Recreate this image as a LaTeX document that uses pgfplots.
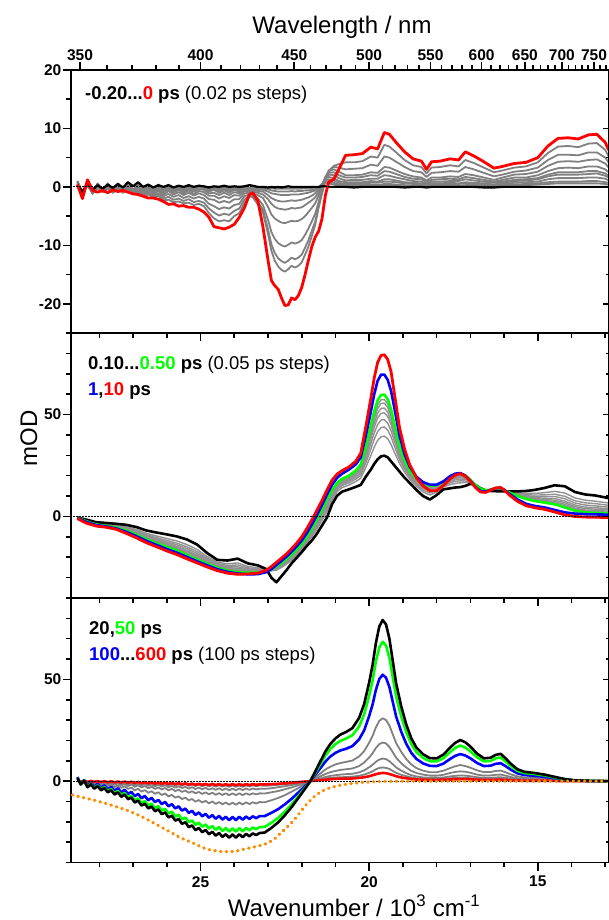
\documentclass[border=0pt]{standalone}
\usepackage{pgfplots}
\pgfplotsset{compat=1.18}
\usepackage{pgfplotstable}
\usepackage{fontspec}
\setmainfont{Liberation Sans}

\definecolor{mygreen}{RGB}{0,255,0}
\definecolor{myorange}{RGB}{255,140,0}
\definecolor{mygray}{RGB}{128,128,128}
\definecolor{midgray}{RGB}{145,145,145}

% top panel: -0.20 ... 0 ps
\pgfplotstableread{
w k g1 g2 g3 g4 g5 g6 g7 g8 g9 r
28.65 0.3 1.0 0.9 1.0 0.8 0.9 0.8 0.7 0.5 0.4 0.4
28.50 -0.8 -1.0 -0.9 -1.0 -0.9 -1.1 -1.0 -1.0 -1.0 -0.9 -2.0
28.35 0.5 1.0 0.9 0.9 0.7 0.9 0.7 0.5 0.4 0.2 1.2
28.20 -0.5 -1.0 -0.9 -1.1 -0.9 -1.2 -1.1 -1.1 -1.1 -1.1 -0.6
28.05 0.3 0.6 0.5 0.5 0.4 0.4 0.3 0.1 0.0 -0.2 -0.9
27.90 -0.3 -0.6 -0.6 -0.7 -0.6 -0.8 -0.8 -0.8 -0.9 -0.9 -0.6
27.75 0.4 0.6 0.5 0.5 0.3 0.4 0.3 0.1 -0.1 -0.3 -1.0
27.60 -0.2 -0.6 -0.6 -0.7 -0.6 -0.8 -0.8 -0.9 -1.0 -1.0 -0.5
27.45 0.5 0.6 0.5 0.5 0.3 0.4 0.3 0.1 -0.1 -0.3 -0.8
27.30 -0.1 -0.6 -0.6 -0.7 -0.6 -0.8 -0.8 -0.9 -1.0 -1.0 -0.6
27.15 0.8 0.6 0.5 0.5 0.3 0.4 0.2 0.0 -0.2 -0.4 -0.9
27.00 0.1 -0.5 -0.5 -0.6 -0.6 -0.8 -0.8 -1.0 -1.1 -1.3 -1.2
26.85 0.8 0.4 0.3 0.3 0.1 0.1 -0.1 -0.3 -0.6 -0.8 -1.3
26.70 0.0 -0.5 -0.5 -0.6 -0.6 -0.9 -1.0 -1.2 -1.4 -1.6 -1.6
26.55 0.4 0.4 0.3 0.2 0.0 0.0 -0.3 -0.6 -1.0 -1.3 -1.9
26.40 -0.1 -0.5 -0.5 -0.7 -0.7 -0.9 -1.1 -1.3 -1.6 -1.8 -1.9
26.25 0.3 0.4 0.3 0.2 0.0 -0.1 -0.4 -0.7 -1.1 -1.5 -2.1
26.10 0.0 -0.5 -0.6 -0.7 -0.8 -1.1 -1.3 -1.6 -2.0 -2.3 -2.5
25.95 0.3 0.4 0.2 0.1 -0.2 -0.3 -0.7 -1.2 -1.7 -2.2 -3.0
25.80 -0.1 -0.4 -0.5 -0.6 -0.7 -1.0 -1.3 -1.7 -2.2 -2.6 -2.9
25.65 0.2 0.2 0.0 -0.1 -0.3 -0.5 -0.9 -1.4 -2.0 -2.5 -3.3
25.50 0.0 -0.4 -0.5 -0.7 -0.8 -1.1 -1.4 -1.9 -2.4 -2.8 -3.2
25.35 0.3 0.2 0.0 -0.1 -0.4 -0.6 -1.0 -1.6 -2.1 -2.7 -3.5
25.20 0.0 -0.4 -0.5 -0.7 -0.8 -1.2 -1.5 -2.0 -2.6 -3.1 -3.5
25.05 0.2 0.2 0.0 -0.1 -0.4 -0.7 -1.1 -1.7 -2.4 -2.9 -3.8
24.90 0.1 0.1 -0.1 -0.3 -0.5 -0.9 -1.4 -2.0 -2.7 -3.3 -4.3
24.75 -0.1 -0.4 -0.6 -0.8 -1.1 -1.5 -2.1 -2.9 -3.7 -4.5 -5.2
24.60 0.1 0.0 -0.3 -0.5 -1.0 -1.5 -2.2 -3.3 -4.4 -5.4 -6.8
24.45 0.0 -0.4 -0.7 -1.0 -1.4 -2.0 -2.7 -3.8 -4.9 -5.9 -7.0
24.30 0.2 0.0 -0.3 -0.6 -1.0 -1.6 -2.4 -3.5 -4.6 -5.7 -7.2
24.15 0.0 -0.4 -0.7 -1.0 -1.4 -1.9 -2.7 -3.7 -4.8 -5.9 -6.9
24.00 0.1 0.0 -0.2 -0.5 -0.9 -1.4 -2.1 -3.1 -4.1 -5.0 -6.4
23.85 0.0 -0.4 -0.6 -0.8 -1.1 -1.5 -2.1 -2.9 -3.7 -4.5 -5.2
23.70 0.1 0.1 -0.1 -0.2 -0.4 -0.7 -1.1 -1.6 -2.2 -2.8 -3.6
23.55 0.3 -0.2 -0.3 -0.4 -0.6 -0.8 -1.0 -1.3 -1.5 -1.6 -1.3
23.45 0.2 -0.1 -0.2 -0.4 -0.6 -0.8 -1.1 -1.4 -1.6 -1.8 -1.0
23.30 0.0 -0.2 -0.3 -0.5 -0.7 -1.0 -1.4 -2.0 -2.6 -3.0 -2.4
23.15 0.0 -0.2 -0.3 -0.5 -0.8 -1.3 -1.9 -3.1 -3.9 -4.4 -6.8
23.00 -0.1 -0.2 -0.4 -0.8 -1.4 -2.1 -3.4 -5.6 -7.2 -8.0 -12.5
22.90 0.0 -0.2 -0.6 -1.1 -1.9 -2.9 -4.7 -7.7 -9.8 -10.9 -16.0
22.80 -0.1 -0.3 -0.7 -1.2 -2.2 -3.4 -5.4 -8.9 -11.3 -12.6 -16.9
22.70 0.0 -0.3 -0.8 -1.3 -2.4 -3.7 -5.8 -9.6 -12.2 -13.6 -17.5
22.60 -0.1 -0.3 -0.8 -1.4 -2.5 -3.8 -6.1 -10.0 -12.7 -14.2 -19.0
22.50 0.0 -0.3 -0.8 -1.4 -2.5 -3.9 -6.2 -10.2 -13.0 -14.5 -20.3
22.40 0.1 -0.3 -0.8 -1.4 -2.4 -3.8 -6.0 -9.9 -12.6 -14.1 -20.2
22.30 0.0 -0.3 -0.7 -1.3 -2.3 -3.6 -5.8 -9.5 -12.1 -13.5 -19.0
22.20 0.0 -0.3 -0.8 -1.3 -2.4 -3.7 -5.9 -9.7 -12.4 -13.8 -19.3
22.10 0.0 -0.3 -0.7 -1.3 -2.3 -3.6 -5.8 -9.5 -12.1 -13.5 -18.6
22.00 0.0 -0.3 -0.7 -1.2 -2.2 -3.5 -5.5 -9.1 -11.6 -12.9 -17.2
21.90 0.0 -0.2 -0.6 -1.1 -2.0 -3.1 -5.0 -8.2 -10.4 -11.6 -15.0
21.80 0.0 -0.2 -0.6 -1.0 -1.8 -2.7 -4.3 -7.1 -9.1 -10.2 -12.5
21.70 0.0 -0.2 -0.5 -0.8 -1.5 -2.3 -3.6 -5.9 -7.5 -8.4 -10.2
21.60 0.0 -0.1 -0.4 -0.6 -1.1 -1.8 -2.8 -4.6 -5.9 -6.5 -8.6
21.50 0.0 0.0 -0.1 -0.2 -0.5 -0.9 -1.5 -2.6 -3.3 -3.6 -7.6
21.40 0.1 0.4 0.5 0.5 0.4 0.3 0.1 -0.5 -1.0 -1.2 -5.5
21.30 0.1 0.6 0.9 1.2 1.5 1.6 1.7 1.6 1.3 1.0 -1.5
21.20 0.0 0.6 1.0 1.3 1.7 2.1 2.4 2.7 2.8 2.7 0.8
21.05 0.0 0.4 0.7 1.1 1.5 2.0 2.5 3.0 3.4 3.6 1.3
20.90 0.0 0.2 0.4 0.7 1.0 1.5 2.0 2.6 3.3 3.9 3.0
20.70 0.0 0.1 0.3 0.5 0.8 1.1 1.6 2.0 3.0 4.2 5.4
20.45 -0.1 0.1 0.3 0.6 0.8 1.2 1.6 2.0 3.1 4.2 5.5
20.20 0.0 0.1 0.3 0.6 0.8 1.2 1.7 2.1 3.2 4.4 5.7
19.95 0.0 0.1 0.3 0.7 1.0 1.4 2.0 2.5 3.8 5.2 6.8
19.75 0.0 0.1 0.3 0.7 0.9 1.4 1.9 2.4 3.6 5.0 6.5
19.55 0.0 0.2 0.5 0.9 1.3 2.0 2.7 3.4 5.2 7.2 9.3
19.40 0.0 0.2 0.5 0.9 1.3 1.9 2.6 3.3 5.0 6.9 9.0
19.20 0.0 0.2 0.4 0.8 1.1 1.6 2.2 2.8 4.3 5.9 7.6
18.95 -0.1 0.1 0.3 0.6 0.8 1.3 1.7 2.2 3.4 4.6 6.0
18.70 0.0 0.1 0.2 0.5 0.7 1.0 1.4 1.8 2.7 3.7 4.8
18.45 0.0 0.1 0.2 0.4 0.6 0.9 1.3 1.6 2.5 3.4 4.4
18.30 -0.1 0.1 0.2 0.3 0.4 0.6 0.9 1.1 1.7 2.3 3.0
18.15 0.0 0.1 0.2 0.4 0.6 0.9 1.2 1.6 2.4 3.3 4.3
17.90 0.0 0.1 0.2 0.4 0.6 0.9 1.3 1.6 2.5 3.4 4.4
17.60 0.0 0.1 0.2 0.5 0.7 1.0 1.4 1.8 2.7 3.7 4.8
17.35 0.0 0.1 0.2 0.5 0.6 1.0 1.3 1.7 2.6 3.5 4.6
17.15 0.0 0.1 0.3 0.6 0.8 1.3 1.7 2.2 3.4 4.6 6.0
16.90 0.0 0.1 0.3 0.5 0.7 1.1 1.5 2.0 3.0 4.1 5.3
16.60 -0.1 0.1 0.2 0.4 0.6 0.9 1.2 1.6 2.4 3.3 4.3
16.30 -0.1 0.1 0.2 0.3 0.4 0.7 0.9 1.2 1.8 2.5 3.2
16.05 0.0 0.2 0.3 0.5 0.7 0.9 1.2 1.6 2.1 2.8 3.5
15.70 0.0 0.3 0.4 0.7 1.0 1.2 1.6 2.1 2.6 3.3 4.0
15.35 0.0 0.3 0.5 0.8 1.1 1.3 1.6 2.2 2.8 3.5 4.2
15.00 0.0 0.4 0.6 0.9 1.3 1.5 2.0 2.6 3.3 4.2 5.0
14.70 0.0 0.5 0.8 1.3 1.8 2.1 2.7 3.6 4.6 5.8 7.0
14.40 0.0 0.6 0.9 1.5 2.1 2.5 3.2 4.3 5.5 6.9 8.3
14.10 0.0 0.6 0.9 1.5 2.1 2.5 3.3 4.4 5.5 7.0 8.4
13.80 0.0 0.6 0.9 1.5 2.1 2.5 3.2 4.3 5.4 6.8 8.2
13.50 0.0 0.6 1.0 1.6 2.2 2.7 3.5 4.6 5.9 7.4 8.9
13.25 0.0 0.6 1.0 1.6 2.3 2.7 3.5 4.7 5.9 7.5 9.0
13.00 0.0 0.5 0.8 1.4 1.9 2.3 3.0 4.0 5.0 6.3 7.6
12.90 0.0 0.4 0.7 1.1 1.6 1.9 2.5 3.3 4.2 5.2 6.3
}\toptab

% middle panel: 0.10 ... 0.50 ps, 1 ps, 10 ps
\pgfplotstableread{
w k g1 g2 g3 g4 g5 g6 g7 gr b r
28.65 -0.5 -0.5 -0.5 -0.6 -0.6 -0.6 -0.6 -0.6 -0.6 -0.8 -1.0
28.40 -1.5 -1.8 -1.9 -2.0 -2.1 -2.1 -2.2 -2.2 -2.3 -2.6 -3.2
28.10 -2.8 -3.2 -3.3 -3.4 -3.6 -3.7 -3.7 -3.8 -3.9 -4.2 -4.7
27.80 -3.2 -3.6 -3.9 -4.0 -4.2 -4.3 -4.4 -4.5 -4.6 -4.9 -5.3
27.50 -3.6 -4.2 -4.5 -4.7 -4.9 -5.1 -5.2 -5.3 -5.5 -5.9 -6.3
27.20 -4.1 -5.0 -5.5 -5.8 -6.1 -6.4 -6.6 -6.8 -7.0 -7.6 -8.3
26.90 -5.2 -6.4 -7.0 -7.4 -7.9 -8.2 -8.5 -8.7 -9.0 -9.7 -10.5
26.60 -6.9 -8.3 -8.9 -9.4 -9.9 -10.3 -10.6 -10.9 -11.2 -12.0 -12.9
26.30 -7.9 -9.6 -10.4 -11.0 -11.6 -12.0 -12.5 -12.8 -13.2 -14.0 -14.9
26.00 -8.8 -10.8 -11.7 -12.5 -13.1 -13.6 -14.1 -14.5 -15.0 -16.0 -16.9
25.70 -9.8 -12.0 -13.1 -13.9 -14.7 -15.3 -15.8 -16.2 -16.8 -17.8 -18.7
25.40 -11.3 -13.8 -14.9 -15.8 -16.7 -17.3 -17.9 -18.4 -19.0 -19.9 -20.8
25.10 -13.8 -16.2 -17.3 -18.2 -19.0 -19.6 -20.2 -20.6 -21.2 -22.0 -22.8
24.80 -18.0 -19.7 -20.5 -21.1 -21.7 -22.1 -22.6 -22.9 -23.3 -24.0 -24.8
24.50 -21.3 -22.5 -23.1 -23.6 -24.0 -24.3 -24.7 -24.9 -25.2 -25.9 -26.6
24.20 -21.6 -23.2 -24.0 -24.6 -25.1 -25.5 -25.9 -26.2 -26.6 -27.2 -27.8
23.90 -20.7 -22.8 -23.8 -24.7 -25.4 -25.9 -26.5 -26.9 -27.4 -28.0 -28.4
23.60 -23.0 -24.5 -25.2 -25.7 -26.2 -26.6 -27.0 -27.2 -27.6 -28.4 -28.2
23.30 -24.0 -25.2 -25.7 -26.1 -26.5 -26.8 -27.1 -27.3 -27.6 -28.3 -27.8
23.05 -25.8 -26.3 -26.5 -26.6 -26.7 -26.8 -26.9 -26.9 -27.0 -27.3 -26.4
22.90 -30.0 -26.7 -26.5 -26.4 -26.3 -26.2 -26.1 -26.1 -26.0 -25.8 -24.6
22.75 -32.3 -26.3 -25.9 -25.6 -25.3 -25.1 -24.9 -24.7 -24.5 -23.8 -22.5
22.60 -29.3 -25.0 -24.5 -24.1 -23.8 -23.5 -23.2 -23.1 -22.8 -21.8 -20.5
22.45 -26.3 -23.3 -22.8 -22.3 -21.9 -21.6 -21.3 -21.1 -20.8 -19.7 -18.3
22.30 -23.0 -21.6 -20.9 -20.4 -19.9 -19.6 -19.2 -19.0 -18.6 -17.3 -15.8
22.15 -20.3 -19.0 -18.4 -17.9 -17.4 -17.1 -16.8 -16.5 -16.2 -14.7 -13.1
22.00 -17.5 -16.2 -15.6 -15.1 -14.7 -14.4 -14.1 -13.8 -13.5 -11.8 -10.0
21.85 -14.5 -13.1 -12.4 -11.8 -11.4 -11.0 -10.6 -10.4 -10.0 -8.2 -6.0
21.70 -11.8 -9.9 -9.1 -8.4 -7.7 -7.3 -6.8 -6.5 -6.0 -4.0 -1.7
21.55 -8.5 -6.3 -5.2 -4.4 -3.6 -3.0 -2.5 -2.1 -1.5 0.6 3.0
21.40 -4.5 -2.0 -0.8 0.1 1.0 1.6 2.2 2.7 3.3 5.6 7.8
21.25 -0.5 2.4 3.7 4.8 5.8 6.5 7.2 7.8 8.5 10.8 13.0
21.10 6.0 8.2 9.3 10.1 10.9 11.5 12.0 12.4 13.0 15.6 17.8
20.95 10.2 12.2 13.2 13.9 14.6 15.1 15.6 16.0 16.5 19.0 20.8
20.80 12.2 14.2 15.2 15.9 16.6 17.1 17.6 18.0 18.5 21.0 22.5
20.60 13.3 15.4 16.5 17.3 18.0 18.5 19.1 19.5 20.0 23.0 24.3
20.40 14.5 17.1 18.3 19.2 20.1 20.7 21.4 21.9 22.5 25.5 27.0
20.25 15.5 18.7 20.2 21.4 22.5 23.3 24.1 24.7 25.5 29.0 31.0
20.10 19.5 24.1 26.3 28.1 29.7 30.8 32.0 32.8 34.0 39.5 44.0
19.95 23.0 29.9 33.1 35.7 38.1 39.8 41.5 42.8 44.5 51.5 58.0
19.85 25.8 34.0 37.9 41.0 43.8 45.8 47.9 49.4 51.5 60.0 68.0
19.75 28.0 37.3 41.6 45.1 48.3 50.6 52.9 54.7 57.0 66.5 75.5
19.65 29.5 39.1 43.6 47.3 50.6 53.0 55.4 57.2 59.6 69.5 79.0
19.55 29.8 39.4 43.9 47.5 50.8 53.2 55.6 57.4 59.8 69.6 79.3
19.45 29.0 38.1 42.4 45.8 49.0 51.2 53.5 55.2 57.5 67.0 77.0
19.35 27.0 35.2 39.0 42.0 44.9 46.9 48.9 50.5 52.5 61.5 71.0
19.25 25.0 31.4 34.4 36.8 39.0 40.6 42.2 43.4 45.0 53.0 60.0
19.10 22.0 26.0 27.9 29.4 30.8 31.8 32.8 33.5 34.5 39.5 43.5
18.95 19.0 21.7 23.0 24.0 25.0 25.6 26.3 26.8 27.5 30.5 33.0
18.80 16.5 18.4 19.3 20.0 20.7 21.2 21.7 22.0 22.5 24.5 25.5
18.60 13.0 14.8 15.6 16.2 16.9 17.3 17.7 18.1 18.5 19.5 19.0
18.40 10.0 12.0 12.9 13.7 14.3 14.8 15.3 15.7 16.2 16.8 15.0
18.20 8.3 10.5 11.5 12.4 13.1 13.7 14.2 14.6 15.2 15.6 12.6
18.00 10.5 12.0 12.8 13.3 13.9 14.2 14.6 14.9 15.3 15.6 12.6
17.80 13.3 14.5 15.0 15.5 15.9 16.2 16.5 16.7 17.0 17.2 15.2
17.60 13.8 15.6 16.5 17.2 17.8 18.2 18.7 19.0 19.5 19.8 18.5
17.45 14.2 16.2 17.2 18.0 18.7 19.2 19.7 20.1 20.6 21.0 20.3
17.30 14.4 16.5 17.5 18.3 19.0 19.5 20.1 20.5 21.0 21.3 21.0
17.15 15.0 16.7 17.4 18.1 18.6 19.1 19.5 19.8 20.2 20.0 19.8
17.00 16.0 16.6 16.9 17.2 17.4 17.6 17.7 17.8 18.0 17.5 17.3
16.85 15.5 15.5 15.5 15.5 15.5 15.5 15.5 15.5 15.5 14.5 14.2
16.70 13.8 13.7 13.7 13.7 13.7 13.6 13.6 13.6 13.6 12.5 12.0
16.55 12.8 12.8 12.8 12.8 12.8 12.8 12.8 12.8 12.8 12.2 11.8
16.40 12.5 12.7 12.8 12.9 13.0 13.0 13.1 13.1 13.2 13.0 12.9
16.25 12.4 12.9 13.1 13.3 13.5 13.6 13.7 13.8 13.9 13.9 14.0
16.10 12.3 12.8 13.0 13.2 13.4 13.5 13.6 13.7 13.8 14.0 14.2
16.00 12.3 12.5 12.6 12.7 12.8 12.8 12.9 12.9 13.0 13.1 13.0
15.85 12.3 12.1 12.1 12.0 12.0 11.9 11.9 11.8 11.8 11.2 10.6
15.60 12.3 11.6 11.2 10.9 10.7 10.5 10.3 10.2 10.0 8.3 7.4
15.35 12.5 11.3 10.7 10.2 9.8 9.5 9.1 8.9 8.6 6.2 5.3
15.10 13.0 11.3 10.5 9.8 9.2 8.8 8.4 8.0 7.6 5.2 4.3
14.80 14.0 11.7 10.6 9.8 9.0 8.4 7.8 7.4 6.8 4.4 3.5
14.50 15.3 12.3 10.9 9.8 8.8 8.0 7.3 6.7 6.0 3.2 2.2
14.20 14.8 11.5 9.9 8.7 7.5 6.7 5.9 5.2 4.4 2.0 0.8
13.90 12.0 9.1 7.7 6.6 5.6 4.8 4.1 3.5 2.8 1.4 0.0
13.60 10.8 8.0 6.7 5.6 4.6 3.9 3.2 2.7 2.0 1.1 -0.3
13.30 10.3 7.5 6.3 5.2 4.3 3.6 2.9 2.4 1.7 1.0 -0.4
12.90 9.0 6.6 5.5 4.6 3.8 3.2 2.6 2.1 1.5 0.9 -0.5
}\midtab

% bottom panel: 20, 50, 100 ... 600 ps
\pgfplotstableread{
w k gr b g1 g2 g3 g4 r
28.65 1.5 1.5 2.0 0.9 0.8 0.6 0.5 0.3
28.55 -1.6 -1.6 -1.5 -1.0 -0.8 -0.7 -0.5 -0.3
28.45 0.1 0.2 0.5 0.4 0.4 0.4 0.4 0.2
28.35 -3.0 -2.8 -2.4 -1.5 -1.1 -0.9 -0.7 -0.4
28.25 -1.6 -1.3 -0.8 -0.5 -0.1 0.0 0.1 0.1
28.15 -3.7 -3.4 -2.8 -1.7 -1.1 -0.8 -0.6 -0.4
28.05 -2.5 -2.1 -1.4 -0.9 -0.3 -0.1 0.1 0.0
27.95 -4.5 -4.1 -3.3 -2.0 -1.3 -1.0 -0.7 -0.5
27.85 -3.4 -2.9 -2.1 -1.2 -0.6 -0.2 0.0 0.0
27.75 -5.5 -5.0 -4.0 -2.4 -1.6 -1.1 -0.8 -0.6
27.65 -4.5 -3.9 -2.8 -1.7 -0.8 -0.4 -0.1 -0.1
27.55 -6.6 -6.0 -4.7 -2.9 -1.8 -1.3 -0.9 -0.6
27.45 -5.5 -4.8 -3.5 -2.1 -1.1 -0.5 -0.2 -0.2
27.35 -7.7 -6.9 -5.5 -3.3 -2.1 -1.4 -1.0 -0.7
27.25 -6.6 -5.8 -4.2 -2.5 -1.3 -0.7 -0.3 -0.2
27.15 -8.9 -8.0 -6.3 -3.8 -2.4 -1.6 -1.1 -0.8
27.05 -8.1 -7.1 -5.3 -3.2 -1.7 -0.9 -0.5 -0.3
26.95 -10.5 -9.4 -7.4 -4.5 -2.8 -1.9 -1.2 -0.9
26.85 -9.6 -8.5 -6.3 -3.8 -2.0 -1.2 -0.6 -0.4
26.75 -12.0 -10.8 -8.4 -5.1 -3.1 -2.1 -1.4 -1.0
26.65 -11.1 -9.8 -7.3 -4.4 -2.4 -1.4 -0.7 -0.5
26.55 -13.4 -12.0 -9.4 -5.7 -3.5 -2.3 -1.5 -1.1
26.45 -12.5 -11.0 -8.2 -5.0 -2.7 -1.6 -0.8 -0.6
26.35 -14.8 -13.3 -10.3 -6.2 -3.8 -2.5 -1.6 -1.2
26.25 -13.9 -12.3 -9.2 -5.5 -3.1 -1.8 -1.0 -0.7
26.15 -16.2 -14.5 -11.3 -6.8 -4.1 -2.7 -1.7 -1.3
26.05 -15.4 -13.6 -10.2 -6.1 -3.4 -2.0 -1.1 -0.8
25.95 -17.8 -15.9 -12.4 -7.5 -4.5 -3.0 -1.9 -1.4
25.85 -17.0 -15.0 -11.3 -6.8 -3.8 -2.3 -1.3 -0.9
25.75 -19.4 -17.4 -13.4 -8.1 -4.9 -3.2 -2.0 -1.5
25.65 -18.6 -16.5 -12.4 -7.5 -4.2 -2.5 -1.4 -1.0
25.55 -21.0 -18.8 -14.5 -8.8 -5.3 -3.4 -2.2 -1.6
25.45 -20.2 -17.9 -13.5 -8.1 -4.6 -2.8 -1.5 -1.1
25.35 -22.6 -20.2 -15.6 -9.4 -5.7 -3.7 -2.3 -1.7
25.25 -21.8 -19.3 -14.6 -8.8 -5.0 -3.0 -1.7 -1.2
25.15 -24.1 -21.5 -16.6 -10.1 -6.0 -3.9 -2.4 -1.8
25.05 -23.0 -20.4 -15.4 -9.3 -5.3 -3.2 -1.8 -1.3
24.95 -25.1 -22.4 -17.3 -10.5 -6.3 -4.0 -2.5 -1.8
24.85 -24.0 -21.3 -16.1 -9.7 -5.5 -3.3 -1.9 -1.4
24.75 -26.1 -23.3 -18.0 -10.9 -6.5 -4.2 -2.6 -1.9
24.65 -24.9 -22.1 -16.7 -10.0 -5.7 -3.5 -2.0 -1.4
24.55 -26.8 -23.9 -18.5 -11.2 -6.7 -4.3 -2.7 -1.9
24.45 -25.5 -22.6 -17.1 -10.3 -5.9 -3.5 -2.0 -1.5
24.35 -27.4 -24.5 -18.9 -11.4 -6.8 -4.4 -2.7 -2.0
24.25 -26.1 -23.1 -17.5 -10.5 -6.0 -3.6 -2.1 -1.5
24.15 -27.8 -24.8 -19.2 -11.6 -6.9 -4.5 -2.8 -2.0
24.05 -26.2 -23.2 -17.6 -10.6 -6.0 -3.7 -2.1 -1.5
23.95 -27.8 -24.8 -19.2 -11.6 -6.9 -4.5 -2.8 -2.0
23.85 -26.1 -23.1 -17.5 -10.5 -6.0 -3.6 -2.1 -1.5
23.75 -27.6 -24.7 -19.0 -11.5 -6.9 -4.4 -2.8 -2.0
23.65 -25.9 -23.0 -17.4 -10.4 -6.0 -3.6 -2.1 -1.5
23.55 -27.1 -24.2 -18.6 -11.3 -6.7 -4.3 -2.6 -1.9
23.45 -25.7 -22.8 -17.3 -10.4 -6.0 -3.6 -2.1 -1.5
23.35 -26.5 -23.6 -18.2 -11.0 -6.5 -4.1 -2.5 -1.8
23.25 -25.5 -22.6 -17.2 -10.3 -6.0 -3.7 -2.1 -1.6
23.10 -25.3 -22.5 -17.2 -10.4 -6.1 -3.8 -2.3 -1.6
22.90 -23.0 -20.5 -15.6 -9.4 -5.5 -3.5 -2.1 -1.5
22.70 -20.3 -18.1 -13.8 -8.3 -4.9 -3.0 -1.8 -1.3
22.50 -16.8 -15.0 -11.4 -6.9 -4.0 -2.5 -1.5 -1.1
22.30 -12.8 -11.4 -8.7 -5.2 -3.1 -1.9 -1.2 -0.8
22.10 -8.3 -7.4 -5.6 -3.4 -2.0 -1.2 -0.7 -0.5
21.90 -3.7 -3.3 -2.5 -1.5 -0.9 -0.6 -0.3 -0.2
21.75 -0.2 -0.2 -0.1 -0.1 0.0 0.0 0.0 0.0
21.60 4.7 4.1 3.1 1.8 1.1 0.7 0.4 0.2
21.45 9.6 8.3 6.3 3.7 2.3 1.3 0.8 0.5
21.30 14.5 12.5 9.6 5.7 3.5 2.0 1.2 0.7
21.15 18.3 15.8 12.1 7.1 4.4 2.6 1.6 0.9
21.00 21.0 18.2 13.9 8.2 5.0 2.9 1.8 1.1
20.85 22.9 19.8 15.1 8.9 5.5 3.2 1.9 1.2
20.70 24.0 20.8 15.8 9.4 5.8 3.4 2.0 1.2
20.50 26.0 22.5 17.2 10.1 6.2 3.6 2.2 1.3
20.30 31.0 26.8 20.5 12.1 7.4 4.3 2.6 1.6
20.15 37.8 32.7 24.9 14.7 9.1 5.3 3.2 1.9
20.00 48.5 42.0 32.0 18.9 11.6 6.8 4.1 2.4
19.90 57.0 49.3 37.6 22.2 13.7 8.0 4.8 2.9
19.80 68.0 58.8 44.9 26.5 16.3 9.5 5.8 3.4
19.70 76.0 65.7 50.2 29.6 18.2 10.6 6.5 3.8
19.60 79.2 68.5 52.3 30.9 19.0 11.1 6.7 4.0
19.50 77.0 66.6 50.8 30.0 18.5 10.8 6.5 3.9
19.40 70.0 60.6 46.2 27.3 16.8 9.8 6.0 3.5
19.30 59.0 51.0 38.9 23.0 14.2 8.3 5.0 3.0
19.20 48.0 41.5 31.7 18.7 11.5 6.7 4.1 2.4
19.05 36.8 31.8 24.3 14.4 8.8 5.2 3.1 1.8
18.90 27.8 24.0 18.3 10.8 6.7 3.9 2.4 1.4
18.75 21.0 18.2 13.9 8.2 5.0 2.9 1.8 1.0
18.60 16.5 14.3 10.9 6.4 4.0 2.3 1.4 0.8
18.40 13.2 11.4 8.7 5.1 3.2 1.8 1.1 0.7
18.20 11.3 9.8 7.5 4.4 2.7 1.6 1.0 0.6
18.00 11.2 9.7 7.4 4.4 2.7 1.6 1.0 0.6
17.80 13.0 11.2 8.6 5.1 3.1 1.8 1.1 0.7
17.60 16.5 14.3 10.9 6.4 4.0 2.3 1.4 0.8
17.45 18.8 16.3 12.4 7.3 4.5 2.6 1.6 0.9
17.30 20.2 17.5 13.3 7.9 4.8 2.8 1.7 1.0
17.15 19.1 16.5 12.6 7.4 4.6 2.7 1.6 1.0
17.00 17.0 14.7 11.2 6.6 4.1 2.4 1.4 0.9
16.80 13.5 11.7 8.9 5.3 3.2 1.9 1.1 0.7
16.60 11.2 9.7 7.4 4.4 2.7 1.6 1.0 0.6
16.40 11.5 9.9 7.6 4.5 2.8 1.6 1.0 0.6
16.25 12.9 11.2 8.5 5.0 3.1 1.8 1.1 0.6
16.10 13.4 11.6 8.8 5.2 3.2 1.9 1.1 0.7
15.95 11.1 9.6 7.3 4.3 2.7 1.6 0.9 0.6
15.80 8.5 7.4 5.6 3.3 2.0 1.2 0.7 0.4
15.60 5.8 5.0 3.8 2.3 1.4 0.8 0.5 0.3
15.40 4.6 4.0 3.0 1.8 1.1 0.6 0.4 0.2
15.10 4.0 3.5 2.6 1.6 1.0 0.6 0.3 0.2
14.80 3.2 2.8 2.1 1.2 0.8 0.4 0.3 0.2
14.50 2.1 1.8 1.4 0.8 0.5 0.3 0.2 0.1
14.20 1.0 0.9 0.7 0.4 0.2 0.1 0.1 0.0
13.90 0.4 0.3 0.3 0.2 0.1 0.1 0.0 0.0
13.60 0.2 0.2 0.1 0.1 0.0 0.0 0.0 0.0
13.30 0.1 0.1 0.0 0.0 0.0 0.0 0.0 0.0
12.90 0.0 0.0 0.0 0.0 0.0 0.0 0.0 0.0
}\bottab

% steady-state absorption (inverted), bottom panel
\pgfplotstableread{
w o
28.80 -6.8
28.50 -8.0
28.17 -9.3
27.80 -11.0
27.50 -12.6
27.18 -14.3
26.80 -17.0
26.50 -19.5
26.19 -22.4
25.90 -25.0
25.60 -27.8
25.20 -30.6
24.95 -32.6
24.70 -33.9
24.40 -34.6
24.11 -34.7
23.90 -34.2
23.62 -33.1
23.30 -32.0
23.02 -30.6
22.80 -28.3
22.63 -25.7
22.43 -22.5
22.23 -19.2
22.03 -15.0
21.84 -11.0
21.64 -7.8
21.44 -5.2
21.20 -3.5
20.95 -2.3
20.60 -1.3
20.25 -0.7
19.90 -0.3
19.50 -0.1
19.00 0.0
12.90 0.0
}\abstab

\pgfplotsset{
  panel/.style={
    scale only axis, width=538pt, x dir=reverse, xmin=12.89, xmax=28.84,
    axis line style={line width=1.8pt},
    major tick style={line width=1.6pt, black},
    minor tick style={line width=1.6pt, black},
    major tick length=8pt, minor tick length=4.5pt,
    tick align=outside, xtick pos=bottom, ytick pos=left,
    xtick={15,20,25}, xticklabels={},
    minor xtick={13,14,16,17,18,19,21,22,23,24,26,27,28},
    ticklabel style={font=\fontsize{15.5}{18}\selectfont\bfseries, inner sep=1.5pt},
    xticklabel style={yshift=-4pt},
    line join=round,
  },
  rticks/.style={
    scale only axis, width=538pt, xmin=12.89, xmax=28.84,
    axis x line=none, axis y line*=right,
    axis line style={line width=1.8pt},
    major tick style={line width=1.6pt, black},
    minor tick style={line width=1.6pt, black},
    major tick length=6pt, minor tick length=3.5pt,
    tick align=inside, yticklabels={},
  },
  zeroline/.style={black, line width=1.1pt, dash pattern=on 1.6pt off 1.4pt},
  mid/.style={line width=2.6pt},
}

\begin{document}
\begin{tikzpicture}
\useasboundingbox (0pt,0pt) rectangle (608pt,-920pt);

% ---------- top panel ----------
\begin{axis}[panel, at={(71pt,-70pt)}, anchor=north west, height=263pt,
  ymin=-25, ymax=20, ytick={-20,-10,0,10,20}, yticklabels={-20,-10,0,10,20},
  minor ytick={-25,-15,-5,5,15}]
\pgfplotsinvokeforeach{g1,g2,g3,g4,g5,g6,g7,g8,g9}{
  \addplot[mygray, line width=1.8pt] table[x=w,y=#1]{\toptab};
}
\addplot[black, line width=2.2pt] table[x=w,y=k]{\toptab};
\addplot[red, line width=2.8pt] table[x=w,y=r]{\toptab};
\addplot[zeroline] coordinates {(12.89,0) (28.84,0)};
\end{axis}
\begin{axis}[rticks, at={(71pt,-70pt)}, anchor=north west, height=263pt,
  ymin=-25, ymax=20, ytick={-20,-10,0,10,20}, minor ytick={-25,-15,-5,5,15}]
\end{axis}
% wavelength axis
\begin{axis}[scale only axis, at={(71pt,-70pt)}, anchor=north west, width=538pt, height=263pt,
  x dir=reverse, xmin=12.89, xmax=28.84, ymin=0, ymax=1,
  axis y line=none, axis x line*=top,
  axis line style={line width=1.8pt},
  major tick style={line width=1.6pt, black},
  minor tick style={line width=1.6pt, black},
  major tick length=8pt, minor tick length=4.5pt, tick align=outside,
  xtick={28.5714,25,22.2222,20,18.1818,16.6667,15.3846,14.2857,13.3333},
  xticklabels={350,400,450,500,550,600,650,700,750},
  minor xtick={27.778,27.027,26.316,25.641,24.390,23.810,23.256,22.727,21.739,21.277,20.833,20.408,19.608,19.231,18.868,18.519,17.857,17.544,17.241,16.949,16.393,16.129,15.873,15.625,15.152,14.925,14.706,14.493,14.085,13.889,13.699,13.514,13.158,12.987},
  ticklabel style={font=\fontsize{15.5}{18}\selectfont\bfseries, inner sep=1.5pt}]
\end{axis}

% ---------- middle panel ----------
\begin{axis}[panel, at={(71pt,-333pt)}, anchor=north west, height=265pt,
  ymin=-40, ymax=90, ytick={0,50}, yticklabels={0,50},
  minor ytick={-40,-30,-20,-10,10,20,30,40,60,70,80,90}]
\pgfplotsinvokeforeach{g1,g2,g3,g4,g5,g6,g7}{
  \addplot[midgray, line width=1.4pt] table[x=w,y=#1]{\midtab};
}
\addplot[black, mid] table[x=w,y=k]{\midtab};
\addplot[mygreen, mid] table[x=w,y=gr]{\midtab};
\addplot[blue, mid] table[x=w,y=b]{\midtab};
\addplot[red, line width=2.8pt] table[x=w,y=r]{\midtab};
\addplot[zeroline] coordinates {(12.89,0) (28.84,0)};
\end{axis}
\begin{axis}[rticks, at={(71pt,-333pt)}, anchor=north west, height=265pt,
  ymin=-40, ymax=90, ytick={0,50}, minor ytick={-40,-30,-20,-10,10,20,30,40,60,70,80,90}]
\end{axis}

% ---------- bottom panel ----------
\begin{axis}[panel, at={(71pt,-598pt)}, anchor=north west, height=264.5pt,
  ymin=-40, ymax=90, ytick={0,50}, yticklabels={0,50},
  minor ytick={-40,-30,-20,-10,10,20,30,40,60,70,80,90},
  xticklabels={15,20,25}]
\pgfplotsinvokeforeach{g1,g2,g3,g4}{
  \addplot[mygray, line width=1.8pt] table[x=w,y=#1]{\bottab};
}
\addplot[red, line width=2.6pt] table[x=w,y=r]{\bottab};
\addplot[blue, mid] table[x=w,y=b]{\bottab};
\addplot[mygreen, mid] table[x=w,y=gr]{\bottab};
\addplot[black, mid] table[x=w,y=k]{\bottab};
\addplot[zeroline] coordinates {(12.89,0) (28.84,0)};
\addplot[myorange, line width=3.4pt, line cap=round, dash pattern=on 0.4pt off 5.3pt] table[x=w,y=o]{\abstab};
\end{axis}
\begin{axis}[rticks, at={(71pt,-598pt)}, anchor=north west, height=264.5pt,
  ymin=-40, ymax=90, ytick={0,50}, minor ytick={-40,-30,-20,-10,10,20,30,40,60,70,80,90}]
\end{axis}

% ---------- labels ----------
\node[anchor=base, font=\fontsize{24}{28}\selectfont, inner sep=0pt] at (342pt,-34pt) {Wavelength / nm};
\node[anchor=base, font=\fontsize{24}{28}\selectfont, inner sep=0pt] at (354pt,-916pt)
  {Wavenumber / 10\textsuperscript{3} cm\textsuperscript{-1}};
\node[anchor=base, rotate=90, font=\fontsize{24}{28}\selectfont, inner sep=0pt] at (37pt,-438.5pt) {mOD};

\begin{scope}[every node/.style={anchor=base west, inner sep=0pt, font=\fontsize{18.5}{22}\selectfont}]
\node at (85pt,-100pt) {\textbf{-0.20...\textcolor{red}{0} ps} (0.02 ps steps)};
\node at (88pt,-369pt) {\textbf{0.10...\textcolor{mygreen}{0.50} ps} (0.05 ps steps)};
\node at (88pt,-395pt) {\textbf{\textcolor{blue}{1},\textcolor{red}{10} ps}};
\node at (89pt,-634pt) {\textbf{20,\textcolor{mygreen}{50} ps}};
\node at (89pt,-660pt) {\textbf{\textcolor{blue}{100}...\textcolor{red}{600} ps} (100 ps steps)};
\end{scope}
\end{tikzpicture}
\end{document}
